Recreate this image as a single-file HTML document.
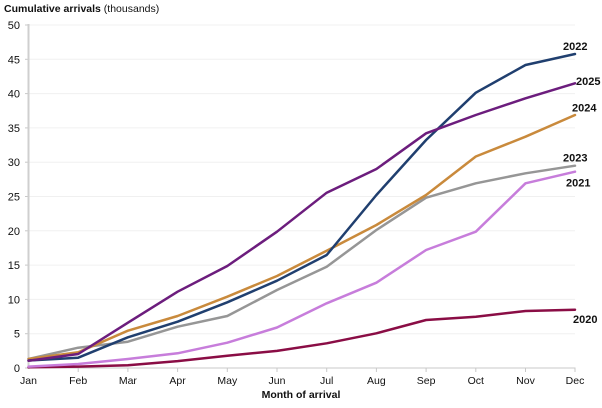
<!DOCTYPE html>
<html><head><meta charset="utf-8"><style>
html,body{margin:0;padding:0;background:#fff;}
svg{display:block;font-family:"Liberation Sans",Arial,sans-serif;}
</style></head><body>
<svg width="602" height="408" viewBox="0 0 602 408" xmlns="http://www.w3.org/2000/svg">
<text x="4" y="12" font-size="10.5" fill="#111"><tspan font-weight="bold">Cumulative arrivals</tspan> (thousands)</text>
<g stroke="#f0f0f0" stroke-width="1">
<line x1="29" x2="575" y1="25" y2="25"/>
<line x1="29" x2="575" y1="59.3" y2="59.3"/>
<line x1="29" x2="575" y1="93.6" y2="93.6"/>
<line x1="29" x2="575" y1="127.9" y2="127.9"/>
<line x1="29" x2="575" y1="162.2" y2="162.2"/>
<line x1="29" x2="575" y1="196.5" y2="196.5"/>
<line x1="29" x2="575" y1="230.8" y2="230.8"/>
<line x1="29" x2="575" y1="265.1" y2="265.1"/>
<line x1="29" x2="575" y1="299.4" y2="299.4"/>
<line x1="29" x2="575" y1="333.7" y2="333.7"/>
</g>
<g stroke="#c8c8c8" stroke-width="1">
<line x1="25" x2="28" y1="25" y2="25"/>
<line x1="25" x2="28" y1="59.3" y2="59.3"/>
<line x1="25" x2="28" y1="93.6" y2="93.6"/>
<line x1="25" x2="28" y1="127.9" y2="127.9"/>
<line x1="25" x2="28" y1="162.2" y2="162.2"/>
<line x1="25" x2="28" y1="196.5" y2="196.5"/>
<line x1="25" x2="28" y1="230.8" y2="230.8"/>
<line x1="25" x2="28" y1="265.1" y2="265.1"/>
<line x1="25" x2="28" y1="299.4" y2="299.4"/>
<line x1="25" x2="28" y1="333.7" y2="333.7"/>
<line x1="25" x2="28" y1="368" y2="368"/>
</g>
<line x1="28.5" x2="28.5" y1="24" y2="369" stroke="#cfcfcf" stroke-width="2"/>
<line x1="28" x2="575.5" y1="368" y2="368" stroke="#c8c8c8" stroke-width="1"/>
<g stroke="#c8c8c8" stroke-width="1">
<line x1="78.2" x2="78.2" y1="368" y2="372"/>
<line x1="127.9" x2="127.9" y1="368" y2="372"/>
<line x1="177.6" x2="177.6" y1="368" y2="372"/>
<line x1="227.3" x2="227.3" y1="368" y2="372"/>
<line x1="277" x2="277" y1="368" y2="372"/>
<line x1="326.7" x2="326.7" y1="368" y2="372"/>
<line x1="376.4" x2="376.4" y1="368" y2="372"/>
<line x1="426.1" x2="426.1" y1="368" y2="372"/>
<line x1="475.8" x2="475.8" y1="368" y2="372"/>
<line x1="525.5" x2="525.5" y1="368" y2="372"/>
<line x1="575" x2="575" y1="368" y2="372"/>
</g>
<g font-size="11" fill="#111" text-anchor="end">
<text x="20" y="29">50</text>
<text x="20" y="63.3">45</text>
<text x="20" y="97.6">40</text>
<text x="20" y="131.9">35</text>
<text x="20" y="166.2">30</text>
<text x="20" y="200.5">25</text>
<text x="20" y="234.8">20</text>
<text x="20" y="269.1">15</text>
<text x="20" y="303.4">10</text>
<text x="20" y="337.7">5</text>
<text x="20" y="372">0</text>
</g>
<g font-size="10.5" fill="#111" text-anchor="middle">
<text x="28.5" y="384">Jan</text>
<text x="78.2" y="384">Feb</text>
<text x="127.9" y="384">Mar</text>
<text x="177.6" y="384">Apr</text>
<text x="227.3" y="384">May</text>
<text x="277" y="384">Jun</text>
<text x="326.7" y="384">Jul</text>
<text x="376.4" y="384">Aug</text>
<text x="426.1" y="384">Sep</text>
<text x="475.8" y="384">Oct</text>
<text x="525.5" y="384">Nov</text>
<text x="575" y="384">Dec</text>
</g>
<text x="301" y="398" font-size="10.5" font-weight="bold" fill="#111" text-anchor="middle">Month of arrival</text>
<g fill="none" stroke-width="2.5" stroke-linejoin="round" stroke-linecap="round">
<polyline stroke="#8a0d45" points="28.5,367.3 78.2,366.6 127.9,365.3 177.6,361.1 227.3,355.7 277,350.9 326.7,343.3 376.4,333.3 426.1,320 475.8,316.7 525.5,311 575,309.7"/>
<polyline stroke="#c77ddb" points="28.5,366.6 78.2,364 127.9,359 177.6,353.3 227.3,342.7 277,327.5 326.7,303.3 376.4,282.7 426.1,250 475.8,231.7 525.5,183.3 575,171.7"/>
<polyline stroke="#969696" points="28.5,359 78.2,347.7 127.9,341.7 177.6,326.7 227.3,316 277,290 326.7,266.7 376.4,230 426.1,197.7 475.8,183.3 525.5,173.3 575,165.7"/>
<polyline stroke="#c98a3c" points="28.5,359 78.2,352.3 127.9,330.7 177.6,316 227.3,296.7 277,276 326.7,250.7 376.4,225 426.1,195 475.8,156.5 525.5,136.7 575,115"/>
<polyline stroke="#203f6f" points="28.5,360.5 78.2,357.7 127.9,337.3 177.6,321.7 227.3,302.3 277,280.7 326.7,255 376.4,195 426.1,140 475.8,92.7 525.5,65 575,54"/>
<polyline stroke="#6c1d7d" points="28.5,360.7 78.2,354 127.9,322.7 177.6,291.7 227.3,266 277,231.7 326.7,192.7 376.4,169 426.1,133.3 475.8,115 525.5,98.3 575,83.3"/>
</g>
<g font-size="11" font-weight="bold" fill="#111">
<text x="563" y="50">2022</text>
<text x="576" y="85">2025</text>
<text x="572" y="111.5">2024</text>
<text x="563" y="161.5">2023</text>
<text x="566" y="186.5">2021</text>
<text x="573" y="323">2020</text>
</g>
</svg>
</body></html>
